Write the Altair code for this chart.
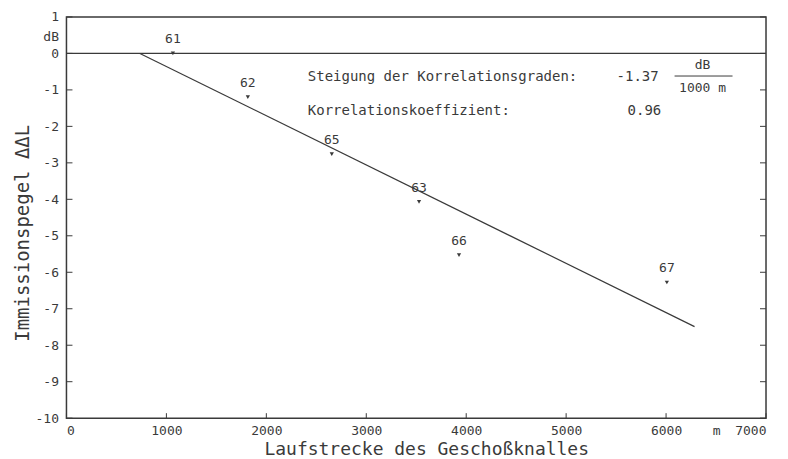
import altair as alt
import pandas as pd

# ---- data ----
pt_label = ["61", "62", "65", "63", "66", "67"]
pt_x = [1065, 1815, 2655, 3528, 3928, 6008]
pt_y = [0.0, -1.2, -2.76, -4.07, -5.53, -6.28]

reg_x = [735, 6285]
reg_y = [0.0, -7.49]

y_ticks = [-10, -9, -8, -7, -6, -5, -4, -3, -2, -1, 0, 1]
x_ticks = [0, 1000, 2000, 3000, 4000, 5000, 6000, 7000]

slope_text = "Steigung der Korrelationsgraden:"
slope_value = "-1.37"
corr_text = "Korrelationskoeffizient:"
corr_value = "0.96"

FONT = "DejaVu Sans Mono"
INK = "#3a3a3a"
W, H = 700, 401.5

xs = alt.Scale(domain=[0, 7000], nice=False)
ys = alt.Scale(domain=[-10, 1], nice=False)

points = pd.DataFrame({"x": pt_x, "y": pt_y, "label": pt_label})
reg = pd.DataFrame({"x": reg_x, "y": reg_y})
yt = pd.DataFrame({"v": y_ticks})
xt = pd.DataFrame({"v": x_ticks})

x_axis = alt.Axis(
    values=x_ticks[:-1] + [6500, 7000],
    labelExpr="datum.value == 6500 ? 'm' : datum.value",
    labelOverlap=False,
    ticks=False, domain=False, grid=False,
    labelFont=FONT, labelFontSize=13, labelColor=INK, labelPadding=6,
    title="Laufstrecke des Geschoßknalles",
    titleFont=FONT, titleFontSize=18, titleFontWeight="normal", titleColor=INK,
    titleX=360, titleY=31, titleBaseline="middle", titleAlign="center",
)
y_axis = alt.Axis(
    values=y_ticks + [0.45],
    labelExpr="datum.value == 0.45 ? 'dB' : datum.value",
    labelOverlap=False,
    ticks=False, domain=False, grid=False,
    labelFont=FONT, labelFontSize=13, labelColor=INK, labelPadding=8,
    title="Immissionspegel ΔΔL",
    titleFont=FONT, titleFontSize=19, titleFontWeight="normal", titleColor=INK,
    titleX=-44, titleY=216, titleAngle=270, titleBaseline="middle", titleAlign="center",
)


def X(field):
    return alt.X(field, type="quantitative", scale=xs, axis=x_axis)


def Y(field):
    return alt.Y(field, type="quantitative", scale=ys, axis=y_axis)


base_pts = alt.Chart(points)

zero_line = alt.Chart(pd.DataFrame({"z": [0]})).mark_rule(color=INK, strokeWidth=1.3).encode(
    y=Y("z")
)

reg_line = alt.Chart(reg).mark_line(color=INK, strokeWidth=1.2).encode(x=X("x"), y=Y("y"))

marks = base_pts.mark_point(shape="triangle-down", filled=True, color=INK, size=18, opacity=1).encode(
    x=X("x"), y=Y("y")
)
labels = base_pts.mark_text(font=FONT, fontSize=13, color=INK, dy=-14).encode(
    x=X("x"), y=Y("y"), text="label:N"
)

# inward ticks
left_ticks = alt.Chart(yt).mark_rule(color=INK).encode(
    y=Y("v"), x=alt.value(0), x2=alt.value(6)
)
right_ticks = alt.Chart(yt).mark_rule(color=INK).encode(
    y=Y("v"), x=alt.value(W - 6), x2=alt.value(W)
)
bottom_ticks = alt.Chart(xt).mark_rule(color=INK).encode(
    x=X("v"), y=alt.value(H - 5), y2=alt.value(H)
)

ann = pd.DataFrame({
    "x": [2415, 5505, 2415, 5615, 6365, 6365],
    "y": [-0.65, -0.65, -1.58, -1.58, -0.32, -0.95],
    "t": [slope_text, slope_value, corr_text, corr_value, "dB", "1000 m"],
    "a": ["left", "left", "left", "left", "center", "center"],
})
ann_left = alt.Chart(ann[ann.a == "left"]).mark_text(
    font=FONT, fontSize=14, color=INK, align="left", baseline="middle"
).encode(x=X("x"), y=Y("y"), text="t:N")
ann_center = alt.Chart(ann[ann.a == "center"]).mark_text(
    font=FONT, fontSize=13, color=INK, align="center", baseline="middle"
).encode(x=X("x"), y=Y("y"), text="t:N")
frac = alt.Chart(pd.DataFrame({"x": [6085], "x2": [6665], "y": [-0.62]})).mark_rule(color=INK).encode(
    x=X("x"), x2="x2:Q", y=Y("y")
)

chart = alt.layer(
    zero_line, reg_line, marks, labels,
    left_ticks, right_ticks, bottom_ticks,
    ann_left, ann_center, frac,
).properties(
    width=W, height=H,
    autosize=alt.AutoSizeParams(type="none"),
    padding={"left": 58.5, "top": 8.8, "right": 14, "bottom": 40},
    background="white",
).configure_view(stroke=INK, strokeWidth=1.5)

chart.save("out.html", embed_options={"renderer": "svg", "actions": False})
